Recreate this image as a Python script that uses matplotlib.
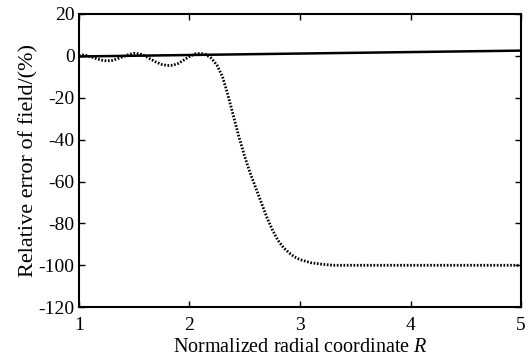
import matplotlib
matplotlib.use("Agg")
import matplotlib.pyplot as plt

plt.rcParams['font.family'] = ['Liberation Serif', 'DejaVu Serif']
plt.rcParams['mathtext.fontset'] = 'custom'
plt.rcParams['mathtext.it'] = 'Liberation Serif:italic'
plt.rcParams['mathtext.rm'] = 'Liberation Serif'

# dotted curve (relative error)
r_dot = [1.0, 1.05, 1.1, 1.15, 1.2, 1.25, 1.3, 1.35, 1.4, 1.45, 1.5, 1.55, 1.6, 1.65,
         1.7, 1.75, 1.8, 1.85, 1.9, 1.95, 2.0, 2.05, 2.1, 2.15, 2.2, 2.25, 2.3, 2.35,
         2.4, 2.45, 2.5, 2.55, 2.6, 2.65, 2.7, 2.75, 2.8, 2.85, 2.9, 2.95, 3.0, 3.1,
         3.2, 3.3, 3.5, 4.0, 4.5, 5.0]
err_dot = [0.3, 0.5, -0.3, -1.2, -2.0, -2.4, -2.2, -1.4, -0.4, 0.6, 1.2, 1.0, 0.0, -1.6,
           -3.0, -4.1, -4.6, -4.5, -3.6, -2.0, -0.3, 0.9, 1.2, 0.6, -1.2, -4.5, -10, -19,
           -29, -39, -48, -56, -63, -70, -77, -83, -88, -91.5, -94, -96, -97.3, -98.8,
           -99.5, -100, -100, -100, -100, -100]

# solid curve
r_solid = [1.0, 2.0, 3.0, 4.0, 5.0]
err_solid = [-0.3, 0.4, 1.1, 1.8, 2.5]

xticks = [1, 2, 3, 4, 5]
yticks = [20, 0, -20, -40, -60, -80, -100, -120]

fig = plt.figure(figsize=(5.29, 3.58), dpi=100)
ax = fig.add_axes([0.149, 0.142, 0.836, 0.819])

ax.plot(r_solid, err_solid, color='black', lw=1.8, solid_capstyle='butt')
ax.plot(r_dot, err_dot, color='black', lw=2.0, linestyle=(0, (0.6, 0.6)))

ax.set_xlim(1, 5)
ax.set_ylim(-120, 20)
ax.set_xticks(xticks)
ax.set_yticks(yticks)
ax.set_xticklabels([str(v) for v in xticks])
ax.set_yticklabels([str(v) for v in yticks])
ax.tick_params(direction='in', top=True, right=True, labelsize=14, length=4, width=1)
ax.tick_params(axis='x', pad=7)
ax.tick_params(axis='y', pad=3)
for s in ax.spines.values():
    s.set_linewidth(1.5)

ax.set_xlabel('Normalized radial coordinate $R$', fontsize=14.5, labelpad=3)
ax.set_ylabel('Relative error of field/(%)', fontsize=16, labelpad=0)

fig.savefig('out.png', dpi=100)
